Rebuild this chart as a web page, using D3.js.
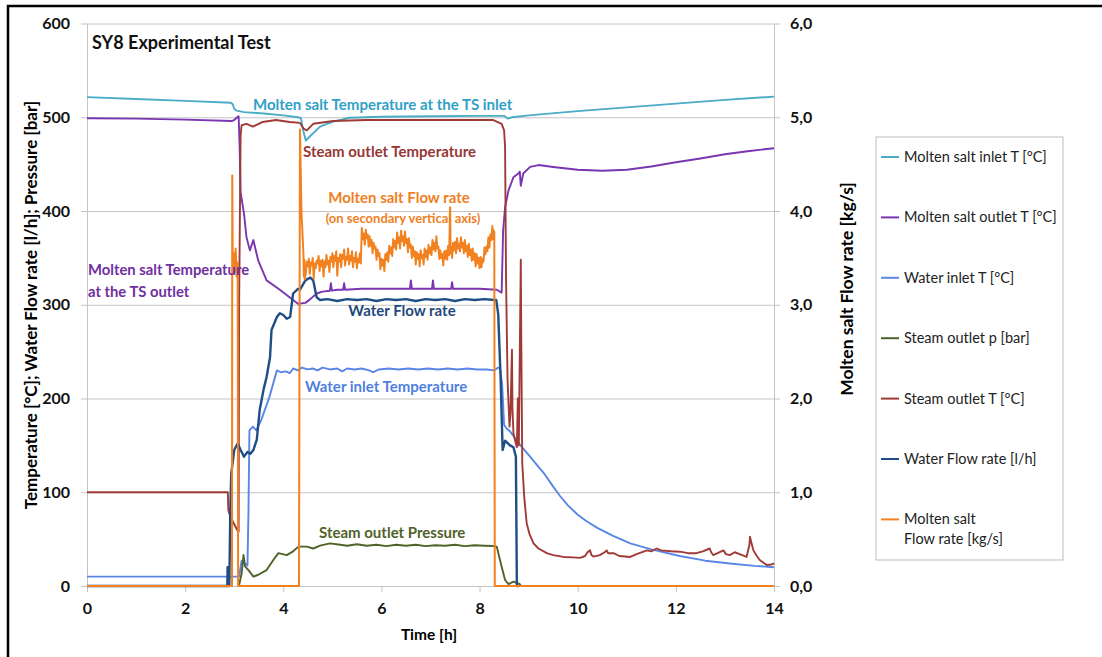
<!DOCTYPE html>
<html>
<head>
<meta charset="utf-8">
<script src="https://d3js.org/d3.v7.min.js"></script>
<style>
body { margin: 0; background: #fff; }
svg text { font-family: Lato, "Open Sans", sans-serif; }
</style>
</head>
<body>
<svg id="chart" width="1102" height="657"></svg>
<script>
// SY8 experimental test
var xTicks = [0, 2, 4, 6, 8, 10, 12, 14];
var leftTicks = [0, 100, 200, 300, 400, 500, 600];
var rightTicks = [0, 1, 2, 3, 4, 5, 6];

var seriesNames = [
    "Molten salt inlet T [°C]",
    "Molten salt outlet T [°C]",
    "Water inlet T [°C]",
    "Steam outlet p [bar]",
    "Steam outlet T [°C]",
    "Water Flow rate [l/h]",
    "Molten salt\nFlow rate [kg/s]"
];

// [time h, value]
var msInletT = [[0,521.5],[1,519.5],[2,517.5],[2.93,515.5],[2.97,514],[3.0,509],[3.05,507],[3.2,505.5],[3.6,504],[4.0,502],[4.3,500],[4.36,499],[4.41,485],[4.46,475],[4.55,480],[4.75,490],[5.0,495],[5.35,499.5],[6,500.5],[7,501],[8,501.5],[8.5,501.5],[8.58,498.5],[8.66,500],[9,502],[10,506.5],[11,510.5],[12,514.5],[13,518.5],[14,522]];

var msOutletT = [[0,499],[1,498.5],[2,497.5],[2.95,496],[3.0,497],[3.06,500],[3.09,501],[3.11,470],[3.13,420],[3.2,397],[3.25,372],[3.32,358],[3.39,369],[3.49,347],[3.66,326],[3.93,316],[4.2,305],[4.3,301],[4.45,302],[4.55,306],[4.68,312],[4.8,314],[4.95,315],[4.97,323],[4.99,315],[5.1,316],[5.22,316],[5.24,323],[5.26,316],[5.6,317],[6.0,317],[6.58,317],[6.6,326],[6.62,317],[7.03,317],[7.05,326],[7.07,317],[7.42,317],[7.44,324],[7.46,317],[8.0,317],[8.35,316],[8.45,313],[8.48,379],[8.52,404],[8.59,422],[8.69,436],[8.79,440],[8.82,442],[8.84,427],[8.89,440],[9.03,447],[9.2,449],[9.5,447],[10.0,444],[10.5,443],[11.0,444],[11.5,447.5],[12.0,452],[12.5,456],[13.0,460.5],[13.5,464],[14,467]];

var waterInletT = [[0,10],[1,10],[2,10],[3.1,10],[3.15,27],[3.22,24],[3.27,22],[3.29,78],[3.31,166],[3.38,170],[3.45,166],[3.55,177],[3.72,202],[3.87,230],[3.95,228],[4.05,229],[4.13,227],[4.2,232],[4.3,230],[4.38,233],[4.5,231],[4.6,232],[4.7,230],[4.8,233],[4.95,231],[5.1,232],[5.2,229],[5.3,232],[5.45,231],[5.6,232],[5.75,230],[5.83,228],[5.95,231],[6.15,232],[6.35,231],[6.55,232],[6.75,231],[6.95,232],[7.15,231],[7.35,232],[7.55,231],[7.75,232],[7.95,231],[8.15,231],[8.3,230],[8.38,233],[8.42,232],[8.46,215],[8.5,172],[8.55,168],[8.62,165],[8.72,158],[8.85,149],[9.03,138],[9.2,127],[9.33,119],[9.5,106],[9.64,96],[9.8,86],[10.0,76],[10.18,69],[10.4,62],[10.7,54],[11.07,45.5],[11.5,39],[12.08,32],[12.6,27],[13.1,24],[13.6,21.5],[14,20]];

var steamP = [[3.08,0],[3.1,1],[3.15,13],[3.19,33],[3.22,21],[3.29,17],[3.39,10],[3.49,12],[3.66,17],[3.8,28],[3.9,35],[4.07,33],[4.2,37],[4.31,42],[4.48,42],[4.61,40],[4.75,43],[4.95,45.5],[5.16,44],[5.3,43],[5.5,44.5],[5.7,43],[5.9,44],[6.1,42.5],[6.3,44],[6.5,43],[6.7,44],[6.9,42.5],[7.1,43.5],[7.3,43],[7.5,44],[7.7,42.5],[7.9,43.5],[8.1,43],[8.28,42.6],[8.35,42],[8.45,20.6],[8.52,6.4],[8.59,2],[8.69,4.6],[8.82,2],[8.84,0]];

var steamOutletT = [[0,100],[2.87,100],[2.88,81],[2.92,74],[2.99,67],[3.06,59.7],[3.09,58],[3.1,300],[3.13,480],[3.15,491.5],[3.25,493],[3.38,490],[3.58,495],[3.85,497],[4.13,495],[4.34,494],[4.41,488],[4.48,486],[4.61,493],[5.02,496],[5.7,497],[7,497],[8.28,497],[8.45,493],[8.5,486],[8.52,468],[8.54,326],[8.57,220],[8.61,170],[8.63,184],[8.66,252],[8.67,190],[8.69,163],[8.72,156],[8.76,148],[8.78,200],[8.8,150],[8.84,348],[8.85,262],[8.87,131],[8.91,95],[8.96,67],[9.02,55],[9.1,45.5],[9.2,40],[9.37,35],[9.5,33],[9.71,31],[9.9,30.5],[10.05,30],[10.15,32],[10.2,36],[10.25,38],[10.28,33],[10.32,31.4],[10.45,33],[10.55,36],[10.59,38],[10.62,35],[10.73,35],[10.85,32],[11.07,31],[11.2,34],[11.41,38],[11.5,37],[11.61,40],[11.7,38],[11.9,37],[12.08,36.6],[12.25,35],[12.42,35],[12.55,37],[12.69,40],[12.72,36],[12.76,33],[12.85,35],[12.97,38],[13.02,34],[13.1,33],[13.2,36],[13.3,34],[13.44,31],[13.5,44],[13.51,52.6],[13.55,44],[13.58,38],[13.65,32],[13.71,27.7],[13.85,22.4],[13.95,23],[14,24]];

var waterFlow = [[0,0],[2.86,0],[2.865,20],[2.875,20],[2.88,0],[2.9,0],[2.92,80],[2.94,120],[3.0,145],[3.07,152],[3.13,145],[3.2,138],[3.27,143],[3.33,141],[3.39,145],[3.46,156],[3.52,188],[3.6,210],[3.66,223],[3.73,244],[3.76,273],[3.87,287],[3.93,291],[4.0,289],[4.07,285],[4.14,287],[4.2,312],[4.3,317],[4.34,316],[4.45,326],[4.55,329],[4.61,326],[4.68,308],[4.75,305],[4.9,306],[5.1,304],[5.3,306],[5.5,305],[5.7,306],[5.9,304],[6.1,306],[6.3,305],[6.5,306],[6.7,304],[6.9,306],[7.1,305],[7.3,306],[7.5,304],[7.7,306],[7.9,305],[8.1,306],[8.3,305],[8.34,305],[8.38,290],[8.43,220],[8.47,145],[8.52,155],[8.62,150],[8.69,148],[8.74,138],[8.76,0],[8.8,0]];

// secondary axis, kg/s
var msFlow = [[0,0],[2.955,0],[2.96,4.38],[2.97,3.4],[2.99,3.55],[3.01,3.35],[3.03,3.6],[3.05,3.3],[3.07,3.45],[3.08,0],[4.32,0],[4.34,4.87],[4.37,4.0],[4.41,3.55],[4.42,3.3],[4.43,3.48],[4.44,3.27],
[4.46,3.34],[4.48,3.46],[4.50,3.41],[4.52,3.49],[4.54,3.33],[4.56,3.45],[4.58,3.42],[4.60,3.50],[4.62,3.28],[4.64,3.44],[4.66,3.39],[4.68,3.47],[4.70,3.44],
[4.72,3.52],[4.74,3.36],[4.76,3.47],[4.78,3.41],[4.80,3.48],[4.82,3.30],[4.84,3.46],[4.86,3.40],[4.88,3.53],[4.90,3.43],[4.92,3.47],[4.94,3.35],[4.96,3.51],[4.98,3.46],[5.00,3.55],
[5.02,3.40],[5.04,3.52],[5.06,3.47],[5.08,3.57],[5.10,3.31],[5.12,3.50],[5.14,3.46],[5.16,3.54],[5.18,3.40],[5.20,3.53],[5.22,3.49],[5.24,3.59],[5.26,3.42],[5.28,3.51],[5.30,3.48],[5.32,3.60],[5.34,3.43],[5.36,3.52],[5.38,3.47],[5.40,3.57],
[5.42,3.40],[5.44,3.50],[5.46,3.46],[5.48,3.56],[5.50,3.39],[5.52,3.49],[5.54,3.45],[5.56,3.55],[5.58,3.44],
[5.60,3.82],[5.62,3.70],[5.64,3.76],[5.66,3.64],[5.68,3.80],[5.70,3.71],[5.72,3.75],[5.74,3.62],[5.76,3.73],
[5.78,3.63],[5.80,3.69],[5.82,3.55],[5.84,3.66],[5.86,3.60],[5.88,3.62],[5.90,3.48],[5.92,3.59],[5.94,3.52],[5.96,3.55],
[5.98,3.38],[6.00,3.49],[6.02,3.42],[6.04,3.48],[6.06,3.36],[6.08,3.54],
[6.10,3.48],[6.12,3.56],[6.14,3.46],[6.16,3.63],[6.18,3.55],[6.20,3.61],[6.22,3.52],[6.24,3.70],[6.26,3.61],[6.28,3.68],[6.30,3.59],
[6.32,3.77],[6.34,3.66],[6.36,3.72],[6.38,3.60],[6.40,3.79],[6.42,3.68],[6.44,3.73],[6.46,3.63],[6.48,3.78],[6.50,3.66],
[6.52,3.70],[6.54,3.56],[6.56,3.71],[6.58,3.61],[6.60,3.64],[6.62,3.50],[6.64,3.62],[6.66,3.52],[6.68,3.57],[6.70,3.43],
[6.72,3.56],[6.74,3.49],[6.76,3.54],[6.78,3.41],[6.80,3.58],[6.82,3.50],[6.84,3.53],[6.86,3.43],[6.88,3.60],[6.90,3.51],
[6.92,3.58],[6.94,3.48],[6.96,3.64],[6.98,3.55],[7.00,3.61],[7.02,3.53],[7.04,3.69],[7.06,3.59],[7.08,3.66],[7.10,3.57],[7.12,3.73],[7.14,3.60],
[7.16,3.62],[7.18,3.49],[7.20,3.58],[7.22,3.50],[7.24,3.54],[7.26,3.42],[7.28,3.57],[7.30,3.49],
[7.32,3.58],[7.34,3.48],[7.36,3.63],[7.38,3.53],[7.40,4.04],[7.41,3.55],[7.42,3.62],[7.44,3.50],[7.46,3.66],[7.48,3.58],[7.50,3.67],[7.52,3.55],[7.54,3.71],[7.56,3.60],[7.58,3.65],[7.60,3.57],[7.62,3.72],[7.64,3.61],[7.66,3.66],[7.68,3.55],[7.70,3.69],
[7.72,3.57],[7.74,3.63],[7.76,3.51],[7.78,3.65],[7.80,3.53],[7.82,3.59],[7.84,3.47],[7.86,3.60],[7.88,3.48],[7.90,3.55],
[7.92,3.41],[7.94,3.54],[7.96,3.44],[7.98,3.50],[8.00,3.39],[8.02,3.51],[8.04,3.40],[8.06,3.49],
[8.08,3.46],[8.10,3.61],[8.12,3.54],[8.14,3.62],[8.16,3.57],[8.18,3.72],[8.20,3.61],[8.22,3.75],[8.24,3.69],[8.26,3.84],[8.27,3.70],[8.28,3.80],[8.29,3.74],[8.30,3.78],[8.31,0],[14,0]];

var colors = ["#4bacc6", "#7a35b0", "#5a86e6", "#4f6228", "#a03a36", "#1f4e86", "#f2811f"];

var svg = d3.select("#chart");

// outer frame (runs off the right/bottom of the picture)
svg.append("rect")
    .attr("x", 8).attr("y", 6)
    .attr("width", 1200).attr("height", 700)
    .attr("fill", "none").attr("stroke", "#000").attr("stroke-width", 2.5);

var x = d3.scaleLinear().domain([0, 14]).range([87, 774]);
var y = d3.scaleLinear().domain([0, 600]).range([586, 23.5]);
var y2 = d3.scaleLinear().domain([0, 6]).range([586, 23.5]);

// gridlines
svg.append("g")
    .attr("transform", "translate(87,0)")
    .call(d3.axisLeft(y).tickValues(leftTicks).tickSize(-687).tickFormat(""))
    .call(g => g.select(".domain").remove())
    .selectAll("line").attr("stroke", "#c4c4c4");

function styleAxis(g) {
    g.select(".domain").attr("stroke", "#c4c4c4");
    g.selectAll(".tick line").attr("stroke", "#c4c4c4");
    g.selectAll("text").attr("font-size", 16).attr("font-weight", "bold").attr("fill", "#111");
}

svg.append("g")
    .attr("transform", "translate(87,0)")
    .call(d3.axisLeft(y).tickValues(leftTicks).tickSize(6).tickSizeOuter(0).tickPadding(11))
    .call(styleAxis);

svg.append("g")
    .attr("transform", "translate(774,0)")
    .call(d3.axisRight(y2).tickValues(rightTicks).tickSize(6).tickSizeOuter(0).tickPadding(10)
        .tickFormat(d => d3.format(".1f")(d).replace(".", ",")))
    .call(styleAxis);

svg.append("g")
    .attr("transform", "translate(0,586)")
    .call(d3.axisBottom(x).tickValues(xTicks).tickSize(6).tickSizeOuter(0).tickPadding(11))
    .call(styleAxis);

// axis titles
svg.append("text")
    .attr("transform", "translate(37,305) rotate(-90)")
    .attr("text-anchor", "middle").attr("font-size", 17).attr("font-weight", "bold")
    .text("Temperature [°C]; Water Flow rate [l/h]; Pressure [bar]");
svg.append("text")
    .attr("transform", "translate(853,289) rotate(-90)")
    .attr("text-anchor", "middle").attr("font-size", 17.5).attr("font-weight", "bold")
    .text("Molten salt Flow rate [kg/s]");
svg.append("text")
    .attr("x", 429).attr("y", 640)
    .attr("text-anchor", "middle").attr("font-size", 15.5).attr("font-weight", "bold")
    .text("Time [h]");

// the lines
var line = d3.line().x(d => x(d[0])).y(d => y(d[1]));
var line2 = d3.line().x(d => x(d[0])).y(d => y2(d[1]));

var allSeries = [msInletT, msOutletT, waterInletT, steamP, steamOutletT, waterFlow];
allSeries.forEach(function (s, i) {
    svg.append("path")
        .datum(s)
        .attr("d", line)
        .attr("fill", "none")
        .attr("stroke", colors[i])
        .attr("stroke-width", i == 5 ? 2.4 : 1.9)
        .attr("stroke-linejoin", "round");
});
svg.append("path")
    .datum(msFlow)
    .attr("d", line2)
    .attr("fill", "none")
    .attr("stroke", colors[6])
    .attr("stroke-width", 2)
    .attr("stroke-linejoin", "round");

// labels in the plot
function note(txt, px, py, col, size, anchor) {
    svg.append("text")
        .attr("x", px).attr("y", py)
        .attr("fill", col)
        .attr("font-size", size || 15)
        .attr("font-weight", "bold")
        .attr("text-anchor", anchor || "start")
        .text(txt);
}
note("SY8 Experimental Test", 92, 49, "#111", 18);
note("Molten salt Temperature at the TS inlet", 253, 110, "#31a0c6");
note("Steam outlet Temperature", 303, 157, "#953735");
note("Molten salt Flow rate", 399, 203, "#f07f1e", 15, "middle");
note("(on secondary vertical axis)", 403, 223, "#f07f1e", 13, "middle");
note("Molten salt Temperature", 88, 275, "#7030a0", 14.8);
note("at the TS outlet", 88, 297, "#7030a0", 14.8);
note("Water Flow rate", 402, 316, "#1f497d", 15, "middle");
note("Water inlet Temperature", 305, 392, "#4f7fe0");
note("Steam outlet Pressure", 319, 538, "#4f6228");

// legend
var lg = svg.append("g");
lg.append("rect")
    .attr("x", 876).attr("y", 137)
    .attr("width", 187).attr("height", 423)
    .attr("fill", "#fff").attr("stroke", "#bdbdbd");
seriesNames.forEach(function (name, i) {
    var cy = 157 + i * 60.4;
    lg.append("line")
        .attr("x1", 881).attr("x2", 899)
        .attr("y1", cy).attr("y2", cy)
        .attr("stroke", colors[i]).attr("stroke-width", 2);
    name.split("\n").forEach(function (part, j) {
        lg.append("text")
            .attr("x", 904).attr("y", cy + 5 + j * 20)
            .attr("font-size", 14.5).attr("fill", "#222")
            .text(part);
    });
});
</script>
</body>
</html>
